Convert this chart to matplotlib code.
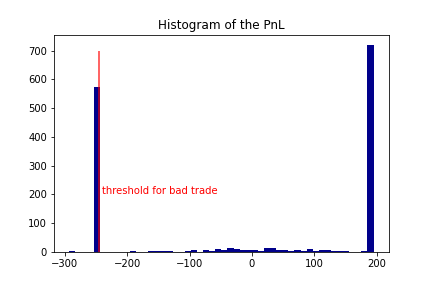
import numpy as np
import matplotlib
matplotlib.use('Agg')
import matplotlib.pyplot as plt

# histogram of PnL, counts per bin
pnl_min = -293
pnl_max = 195
counts = [3, 0, 0, 0, 575, 0, 0, 0, 0, 0,
          3, 0, 0, 3, 3, 3, 3, 0, 0, 3,
          7, 0, 7, 3, 10, 7, 14, 10, 7, 7,
          7, 3, 14, 14, 7, 7, 5, 7, 3, 10,
          3, 7, 7, 3, 3, 3, 0, 0, 3, 720]
threshold = -245
threshold_label = 'threshold for bad trade'

edges = np.linspace(pnl_min, pnl_max, len(counts) + 1)
centers = (edges[:-1] + edges[1:]) / 2

fig, ax = plt.subplots(figsize=(6, 4), dpi=72)
ax.hist(centers, bins=edges, weights=counts, color='darkblue')
ax.vlines(threshold, 0, 700, color='red', alpha=0.8)
ax.text(threshold + 5, 200, threshold_label, color='red')
ax.set_title('Histogram of the PnL')

fig.subplots_adjust(left=0.125, right=0.9, top=0.88, bottom=0.125)
fig.savefig('out.png')
